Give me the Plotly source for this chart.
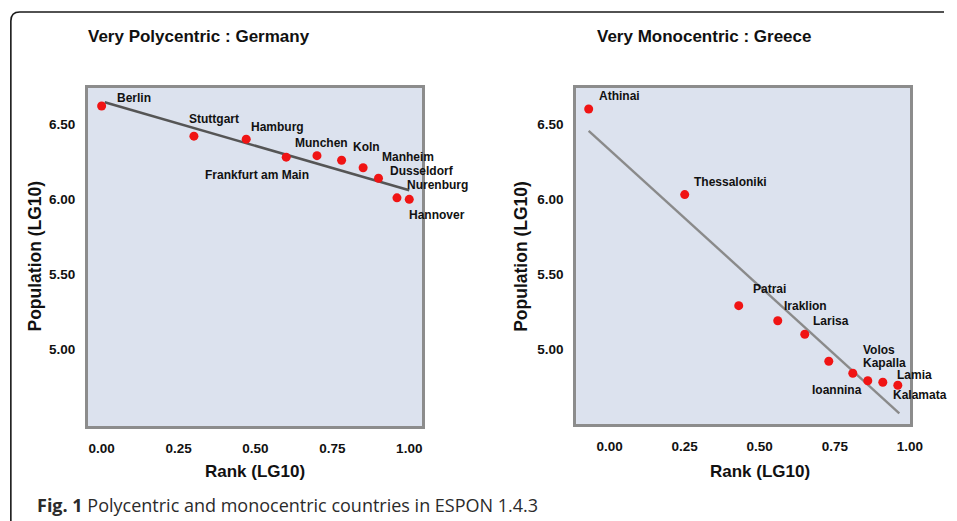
import plotly.graph_objects as go

W, H = 957, 521

# ---------------- data ----------------
germany_cities = ["Berlin", "Stuttgart", "Hamburg", "Frankfurt am Main", "Munchen",
                  "Koln", "Manheim", "Dusseldorf", "Nurenburg", "Hannover"]
germany_rank = [0.00, 0.30, 0.47, 0.60, 0.70, 0.78, 0.85, 0.90, 0.96, 1.00]
germany_pop = [6.62, 6.42, 6.40, 6.28, 6.29, 6.26, 6.21, 6.14, 6.01, 6.00]
germany_fit_rank = [0.01, 1.00]
germany_fit_pop = [6.645, 6.06]

greece_cities = ["Athinai", "Thessaloniki", "Patrai", "Iraklion", "Larisa",
                 "Volos", "Ioannina", "Kapalla", "Lamia", "Kalamata"]
greece_rank = [-0.07, 0.25, 0.43, 0.56, 0.65, 0.73, 0.81, 0.86, 0.91, 0.96]
greece_pop = [6.60, 6.03, 5.29, 5.19, 5.10, 4.92, 4.84, 4.79, 4.78, 4.76]
greece_fit_rank = [-0.07, 0.965]
greece_fit_pop = [6.455, 4.573]

x_tick_vals = [0.0, 0.25, 0.5, 0.75, 1.0]
x_tick_text = ["0.00", "0.25", "0.50", "0.75", "1.00"]
y_tick_vals = [5.0, 5.5, 6.0, 6.5]
y_tick_text = ["5.00", "5.50", "6.00", "6.50"]

titles = ["Very Polycentric : Germany", "Very Monocentric : Greece"]
x_title = "Rank (LG10)"
y_title = "Population (LG10)"
caption = "<b>Fig. 1</b> Polycentric and monocentric countries in ESPON 1.4.3"

# ---------------- style (label placement relative to each point, px) ----------------
germany_label_style = [("left", 15.6, 8.4), ("left", -5, 16.7), ("left", 5, 12.6),
                       ("center", -29.5, -18.3), ("left", -22.3, 12.3), ("left", 11.6, 13),
                       ("left", 19, 11), ("left", 11.7, 7.6), ("left", 10, 13),
                       ("left", 0, -15.7)]
greece_label_style = [("left", 10, 13.4), ("left", 9.7, 13), ("left", 14, 16.7),
                      ("left", 6.6, 14.7), ("left", 8.6, 13.6), ("left", 34.4, 11.7),
                      ("center", -16, -16.6), ("left", -5, 17.6), ("left", 14, 7.4),
                      ("left", -5.3, -9.7)]

FONT = "Liberation Sans, Arial, Helvetica, sans-serif"
RED = "#f01414"
BOX = "#8c8c8c"
BG = "#dce2ee"


def px(x):
    return x / W


def py(y):
    return 1 - y / H


fig = go.Figure()

# Germany
fig.add_trace(go.Scatter(x=germany_fit_rank, y=germany_fit_pop, mode="lines",
                         line=dict(color="#555555", width=2.6),
                         xaxis="x", yaxis="y", showlegend=False, hoverinfo="skip"))
fig.add_trace(go.Scatter(x=germany_rank, y=germany_pop, mode="markers",
                         marker=dict(color=RED, size=9),
                         text=germany_cities, xaxis="x", yaxis="y", showlegend=False))
# Greece
fig.add_trace(go.Scatter(x=greece_fit_rank, y=greece_fit_pop, mode="lines",
                         line=dict(color="#8a8a8a", width=2.4),
                         xaxis="x2", yaxis="y2", showlegend=False, hoverinfo="skip"))
fig.add_trace(go.Scatter(x=greece_rank, y=greece_pop, mode="markers",
                         marker=dict(color=RED, size=9),
                         text=greece_cities, xaxis="x2", yaxis="y2", showlegend=False))

tickfont = dict(family=FONT, size=13.5, color="#111111", weight="bold")
axis_common = dict(showgrid=False, zeroline=False, showline=True, mirror=True,
                   linecolor=BOX, linewidth=2.6, ticks="", tickfont=tickfont,
                   fixedrange=True)

fig.update_layout(
    width=W, height=H,
    margin=dict(l=0, r=0, t=0, b=0),
    paper_bgcolor="white",
    plot_bgcolor=BG,
    xaxis=dict(domain=[px(89), px(428)], range=[-0.045, 1.042],
               tickvals=x_tick_vals, ticktext=x_tick_text, anchor="y",
               ticklabelstandoff=8, **axis_common),
    yaxis=dict(domain=[py(426), py(88)], range=[4.493, 6.74],
               tickvals=y_tick_vals, ticktext=y_tick_text, anchor="x",
               ticklabelstandoff=7, **axis_common),
    xaxis2=dict(domain=[px(584), px(922.5)], range=[-0.112, 1.0005],
                tickvals=x_tick_vals, ticktext=x_tick_text, anchor="y2",
                ticklabelstandoff=8, **axis_common),
    yaxis2=dict(domain=[py(424), py(88)], range=[4.502, 6.74],
                tickvals=y_tick_vals, ticktext=y_tick_text, anchor="x2",
                ticklabelstandoff=7, **axis_common),
)

annotations = []
label_font = dict(family=FONT, size=12, color="#111111", weight="bold")
for cities, xs, ys, styles, xr, yr in [
    (germany_cities, germany_rank, germany_pop, germany_label_style, "x", "y"),
    (greece_cities, greece_rank, greece_pop, greece_label_style, "x2", "y2"),
]:
    for name, xv, yv, (anc, dx, dy) in zip(cities, xs, ys, styles):
        annotations.append(dict(x=xv, y=yv, xref=xr, yref=yr, text=name,
                                showarrow=False, xanchor=anc, yanchor="middle",
                                xshift=dx, yshift=dy, font=label_font,
                                borderpad=0, borderwidth=0))

title_font = dict(family=FONT, size=17, color="#111111", weight="bold")
axis_title_font = dict(family=FONT, size=17, color="#111111", weight="bold")
y_title_font = dict(family=FONT, size=17.5, color="#111111", weight="bold")

# panel titles
annotations.append(dict(x=px(201.5), y=py(37), xref="paper", yref="paper",
                        text=titles[0], showarrow=False, font=title_font,
                        xanchor="center", yanchor="middle"))
annotations.append(dict(x=px(713.3), y=py(36.5), xref="paper", yref="paper",
                        text=titles[1], showarrow=False, font=title_font,
                        xanchor="center", yanchor="middle"))
# axis titles
annotations.append(dict(x=px(258.8), y=py(471), xref="paper", yref="paper",
                        text=x_title, showarrow=False, font=axis_title_font,
                        xanchor="center", yanchor="middle"))
annotations.append(dict(x=px(770), y=py(471), xref="paper", yref="paper",
                        text=x_title, showarrow=False, font=axis_title_font,
                        xanchor="center", yanchor="middle"))
annotations.append(dict(x=px(35), y=py(256), xref="paper", yref="paper",
                        text=y_title, showarrow=False, font=y_title_font,
                        textangle=-90, xanchor="center", yanchor="middle"))
annotations.append(dict(x=px(528), y=py(256), xref="paper", yref="paper",
                        text=y_title, showarrow=False, font=y_title_font,
                        textangle=-90, xanchor="center", yanchor="middle"))
# caption
annotations.append(dict(x=px(35), y=py(505), xref="paper", yref="paper",
                        text=caption, showarrow=False,
                        font=dict(family="Open Sans, Noto Sans, sans-serif", size=18,
                                  color="#2b2b2b"),
                        xanchor="left", yanchor="middle"))
fig.update_layout(annotations=annotations)

# rounded frame around the figure (top-left corner)
path = (f"M {px(11)},{py(521)} L {px(11)},{py(21)} "
        f"Q {px(11)},{py(12)} {px(20)},{py(12)} L {px(957)},{py(12)}")
fig.add_shape(type="path", path=path, xref="paper", yref="paper",
              line=dict(color="#1a1a1a", width=1.6))

fig.write_html("out.html",
               config={"displayModeBar": False},
               post_script="document.body.style.margin='0';document.body.style.overflow='hidden';")
